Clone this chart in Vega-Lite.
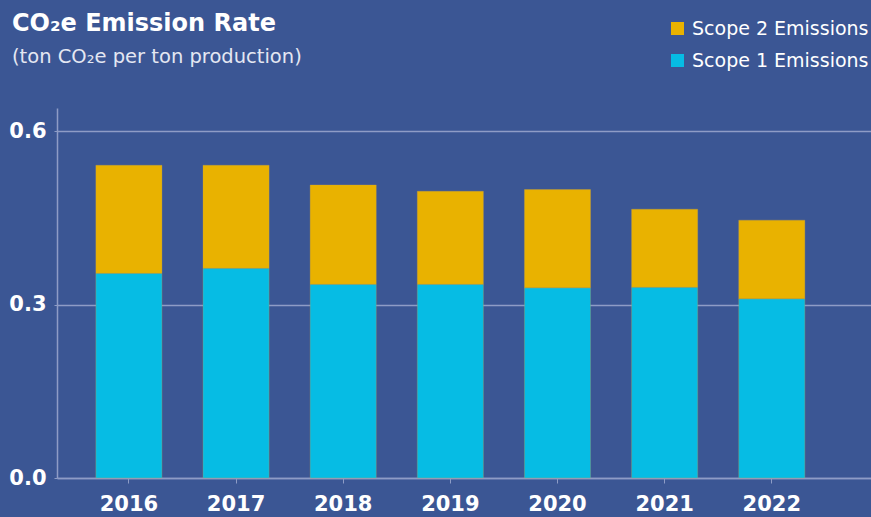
{
  "$schema": "https://vega.github.io/schema/vega-lite/v6.json",
  "autosize": "none",
  "width": 814,
  "height": 370,
  "padding": {"left": 57, "top": 108, "right": 0, "bottom": 39},
  "background": "#3b5694",
  "title": {
    "text": "CO₂e Emission Rate",
    "subtitle": "(ton CO₂e per ton production)",
    "anchor": "start",
    "frame": "group",
    "dx": -45,
    "offset": -47,
    "font": "DejaVu Sans",
    "fontSize": 24,
    "fontWeight": "bold",
    "color": "#ffffff",
    "subtitleFont": "DejaVu Sans",
    "subtitleFontSize": 19.5,
    "subtitleColor": "#e4e7f2",
    "subtitlePadding": 12
  },
  "data": {
    "values": [
      {"year": "2016", "scope": "Scope 1 Emissions", "value": 0.354},
      {"year": "2016", "scope": "Scope 2 Emissions", "value": 0.187},
      {"year": "2017", "scope": "Scope 1 Emissions", "value": 0.363},
      {"year": "2017", "scope": "Scope 2 Emissions", "value": 0.178},
      {"year": "2018", "scope": "Scope 1 Emissions", "value": 0.335},
      {"year": "2018", "scope": "Scope 2 Emissions", "value": 0.172},
      {"year": "2019", "scope": "Scope 1 Emissions", "value": 0.335},
      {"year": "2019", "scope": "Scope 2 Emissions", "value": 0.161},
      {"year": "2020", "scope": "Scope 1 Emissions", "value": 0.329},
      {"year": "2020", "scope": "Scope 2 Emissions", "value": 0.170},
      {"year": "2021", "scope": "Scope 1 Emissions", "value": 0.330},
      {"year": "2021", "scope": "Scope 2 Emissions", "value": 0.135},
      {"year": "2022", "scope": "Scope 1 Emissions", "value": 0.310},
      {"year": "2022", "scope": "Scope 2 Emissions", "value": 0.136}
    ]
  },
  "mark": {"type": "bar", "stroke": "#c9a34a", "strokeWidth": 0.5, "strokeOpacity": 0.6},
  "encoding": {
    "x": {
      "field": "year",
      "type": "ordinal",
      "scale": {"paddingInner": 0.383, "paddingOuter": 0.49, "align": 0.37},
      "axis": {
        "title": null,
        "labelAngle": 0,
        "labelFont": "DejaVu Sans",
        "labelFontSize": 21,
        "labelFontWeight": "bold",
        "labelColor": "#ffffff",
        "labelPadding": 10,
        "domainColor": "#8e9cc6",
        "domainWidth": 1.5,
        "tickColor": "#8e9cc6",
        "tickSize": 5
      }
    },
    "y": {
      "field": "value",
      "type": "quantitative",
      "stack": "zero",
      "scale": {"domain": [0, 0.64], "nice": false},
      "axis": {
        "title": null,
        "values": [0, 0.3, 0.6],
        "format": ".1f",
        "labelFont": "DejaVu Sans",
        "labelFontSize": 21,
        "labelFontWeight": "bold",
        "labelColor": "#ffffff",
        "labelPadding": 8,
        "domainColor": "#8e9cc6",
        "domainWidth": 1.5,
        "tickColor": "#8e9cc6",
        "tickSize": 3,
        "gridColor": "#8e9cc6",
        "gridWidth": 1.5
      }
    },
    "color": {
      "field": "scope",
      "type": "nominal",
      "scale": {
        "domain": ["Scope 2 Emissions", "Scope 1 Emissions"],
        "range": ["#e9b200", "#06bce4"]
      },
      "legend": {
        "title": null,
        "orient": "none",
        "legendX": 611,
        "legendY": -89,
        "padding": 0,
        "symbolType": "square",
        "symbolSize": 169,
        "symbolStrokeWidth": 0,
        "labelFont": "DejaVu Sans",
        "labelFontSize": 19,
        "labelColor": "#ffffff",
        "labelOffset": 5,
        "labelLimit": 0,
        "rowPadding": 12
      }
    },
    "order": {"field": "scope", "sort": "ascending"}
  },
  "config": {
    "view": {"stroke": null}
  }
}
